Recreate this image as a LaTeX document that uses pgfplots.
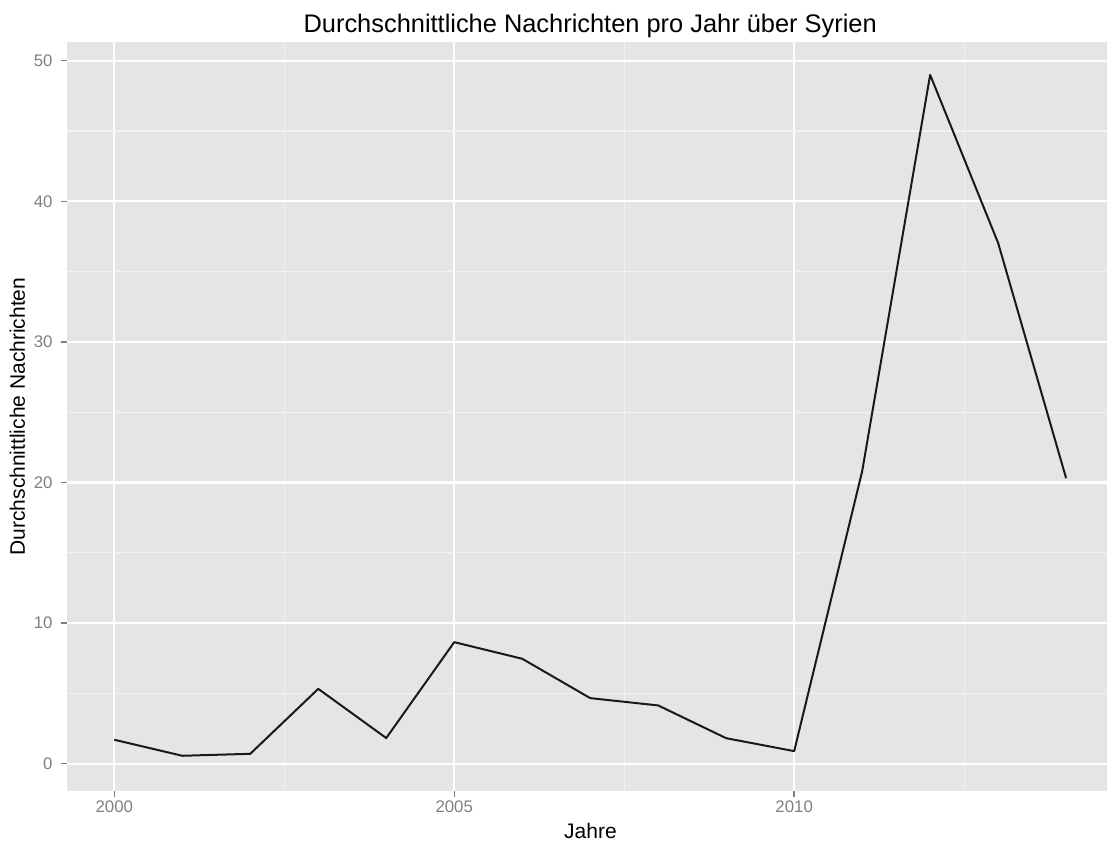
\documentclass[border=0pt]{standalone}
\usepackage{fontspec}
\setmainfont{Liberation Sans}
\usepackage{pgfplots}
\pgfplotsset{compat=1.18}
\definecolor{panelbg}{RGB}{229,229,229}
\definecolor{minorgrid}{RGB}{242,242,242}
\definecolor{tickgrey}{RGB}{127,127,127}
\begin{document}
\begin{tikzpicture}
\useasboundingbox (-66.7pt,-50.5pt) rectangle (1040.3pt,790.5pt);
\begin{axis}[
  at={(0pt,0pt)}, anchor=south west,
  scale only axis,
  width=1047pt, height=748pt,
  xmin=1999.3, xmax=2014.7,
  ymin=-1.9, ymax=51.3,
  axis line style={draw=none},
  axis background/.style={fill=panelbg},
  xtick={2000,2005,2010},
  ytick={0,10,20,30,40,50},
  minor xtick={2002.5,2007.5,2012.5},
  minor ytick={5,15,25,35,45},
  grid=both,
  major grid style={white, line width=2.2pt},
  minor grid style={minorgrid, line width=1.2pt},
  tick align=outside,
  major tick length=6pt,
  minor tick length=0pt,
  xtick pos=bottom, ytick pos=left,
  tick style={tickgrey, line width=1.4pt},
  /pgf/number format/1000 sep={},
  /pgf/number format/assume math mode=true,
  ticklabel style={tickgrey, font=\fontsize{16.8}{18}\selectfont, inner sep=0pt},
  xticklabel style={anchor=north, yshift=-4pt},
  yticklabel style={anchor=east, xshift=-8pt},
]
% Average messages per year
\addplot[black!90, line width=2pt, line join=round] coordinates {
  (2000,1.71) (2001,0.57) (2002,0.71) (2003,5.33) (2004,1.83)
  (2005,8.65) (2006,7.47) (2007,4.67) (2008,4.15) (2009,1.82)
  (2010,0.90) (2011,20.8) (2012,49.0) (2013,37.04) (2014,20.31)};
\end{axis}
\node[anchor=base, font=\fontsize{25.4}{28}\selectfont] at (523.5pt,757.5pt)
  {Durchschnittliche Nachrichten pro Jahr über Syrien};
\node[anchor=base, font=\fontsize{21}{24}\selectfont] at (523.8pt,-47.5pt) {Jahre};
\node[anchor=base, rotate=90, font=\fontsize{21}{24}\selectfont] at (-41.7pt,374pt)
  {Durchschnittliche Nachrichten};
\end{tikzpicture}
\end{document}
